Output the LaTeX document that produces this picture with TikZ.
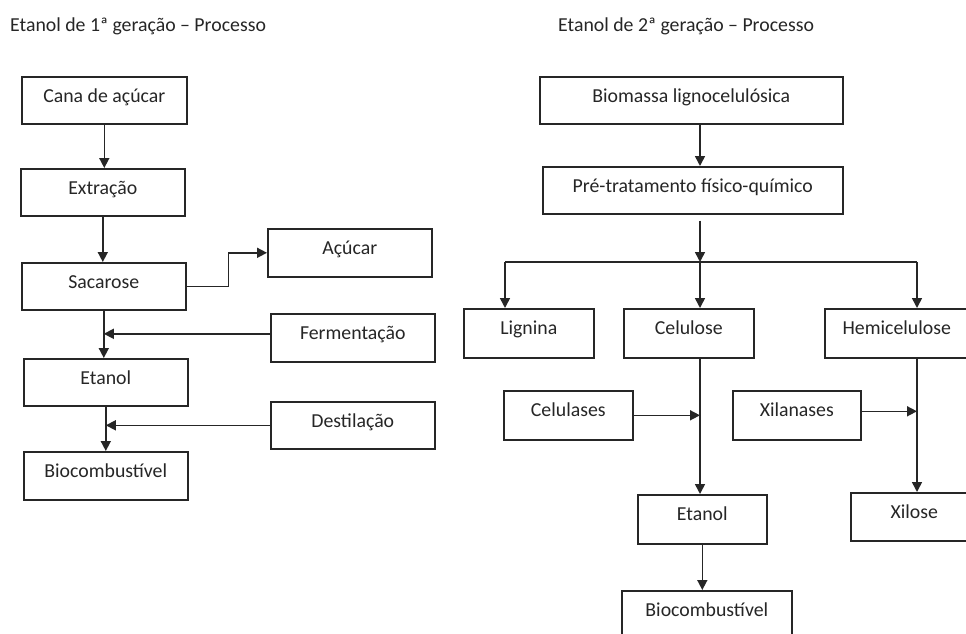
\documentclass[tikz,border=0pt]{standalone}
\usepackage{fontspec}
\setmainfont{Carlito}
\usetikzlibrary{arrows.meta}
\definecolor{ink}{HTML}{262626}
\tikzset{
  box/.style={draw=ink, line width=1.6pt, inner sep=0pt, anchor=north west,
    text height=25.5pt, text depth=21.5pt, minimum width=#1, text=ink,
    font=\fontsize{19.8}{23}\selectfont},
  arr/.style={draw=ink, line width=1.6pt, -{Triangle[length=10pt,width=10pt]}},
  ln/.style={draw=ink, line width=1.6pt},
  ttl/.style={anchor=base west, inner sep=0pt, text=ink, font=\fontsize{19.8}{23}\selectfont}
}
\begin{document}
\begin{tikzpicture}[x=1pt,y=-1pt]
\path[use as bounding box, fill=white] (0,0) rectangle (966,634);
\clip (0,0) rectangle (966,634);
% titles
\node[ttl] (t1) at (10,31.5) {Etanol de 1ª geração – Processo};
\node[ttl] (t2) at (558,31.5) {Etanol de 2ª geração – Processo};
% left column
\node[box=165pt] (cana) at (21,76) {Cana de açúcar};
\node[box=164pt] (extr) at (20,168) {Extração};
\node[box=164pt] (sac) at (21,262) {Sacarose};
\node[box=164pt, text depth=22.5pt] (acu) at (267,228) {Açúcar};
\node[box=164pt, text depth=22.5pt] (ferm) at (270,313) {Fermentação};
\node[box=164pt] (et1) at (23,358) {Etanol};
\node[box=164pt] (dest) at (270,401) {Destilação};
\node[box=164pt, text depth=22.5pt] (bio1) at (23,451) {Biocombustível};
\draw[arr] (cana.south) -- (cana.south |- extr.north);
\draw[arr] (extr.south) -- (extr.south |- sac.north);
\draw[arr] (sac.east) -- ++(42,0) |- (acu.west);
\draw[arr] (sac.south) -- (sac.south |- et1.north);
\draw[arr] ([yshift=4pt]ferm.west) -- ([yshift=4pt]ferm.west -| sac.south);
\draw[arr] (et1.south) -- (et1.south |- bio1.north);
\draw[arr] (dest.west) -- (dest.west -| et1.south);
% right column
\node[box=303pt] (biom) at (539,76) {Biomassa lignocelulósica};
\node[box=300pt] (pre) at (542,166) {Pré-tratamento físico-químico};
\node[box=130pt, text depth=23.5pt] (lig) at (463,308) {Lignina};
\node[box=130pt, text depth=23.5pt] (cel) at (623,308) {Celulose};
\node[box=144pt, text depth=23.5pt] (hem) at (824,308) {Hemicelulose};
\node[box=129pt, text depth=23.5pt] (cels) at (503,390) {Celulases};
\node[box=128pt, text depth=23.5pt] (xil) at (732,390) {Xilanases};
\node[box=129pt, text depth=23.5pt] (et2) at (637,494) {Etanol};
\node[box=127pt, text depth=22.5pt] (xilo) at (850,492) {Xilose};
\node[box=170pt, text depth=22.5pt] (bio2) at (621,590) {Biocombustível};
\coordinate (j) at (700,262);
\coordinate (hl) at (505,262);
\coordinate (hr) at (917,262);
\draw[arr] (biom.south -| j) -- (pre.north -| j);
\draw[arr, shorten <=6pt] (pre.south -| j) -- (j);
\draw[ln] (hl) -- (hr);
\draw[arr] (hl) -- (hl |- lig.north);
\draw[arr] (j) -- (j |- cel.north);
\draw[arr] (hr) -- (hr |- hem.north);
\draw[arr] (cel.south -| j) -- (et2.north -| j);
\draw[arr] (cels.east) -- (cels.east -| j);
\draw[arr] (hem.south -| hr) -- (xilo.north -| hr);
\draw[arr] ([yshift=4pt]xil.east) -- ([yshift=4pt]xil.east -| hr);
\draw[arr] (et2.south) -- (et2.south |- bio2.north);
\end{tikzpicture}
\end{document}
